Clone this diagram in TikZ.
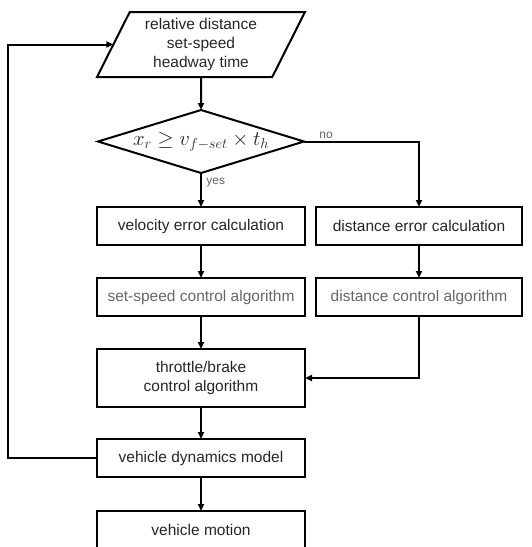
\documentclass[tikz,border=0pt]{standalone}
\usepackage{fontspec}
\setmainfont{Liberation Sans}
\usetikzlibrary{positioning,shapes.geometric,arrows.meta}

\begin{document}
\begin{tikzpicture}[x=1pt, y=-1pt, node distance=33pt, line width=2pt, >={Triangle[length=7pt,width=6pt]},
  every node/.style={align=center,outer sep=0pt,font=\fontsize{15.5}{19}\selectfont,text=black!85},
  box/.style={draw,minimum width=208pt,minimum height=38pt,inner sep=0pt},
  inbox/.style={draw,trapezium,trapezium left angle=58,trapezium right angle=122,trapezium stretches body,minimum width=208pt,minimum height=65pt,inner sep=0pt},
  testbox/.style={draw,diamond,aspect=3.27,minimum width=206pt,minimum height=63pt,inner sep=0pt},
  lbl/.style={font=\fontsize{12}{14}\selectfont,text=black!60}]
\clip (0,0) rectangle (531,547);
\node (in) [inbox] at (201,44.5) {relative distance\\set-speed\\headway time};
\node (dec) [testbox, below=of in] {\fontsize{20}{24}\selectfont$x_r \geq v_{f-set}\times t_h$};
\node (vel) [box, below=34pt of dec] {velocity error calculation};
\node (spd) [box, below=of vel, text=black!60] {set-speed control algorithm};
\node (thr) [box, below=of spd, minimum height=58pt] {throttle/brake\\control algorithm};
\node (dyn) [box, below=32pt of thr] {vehicle dynamics model};
\node (mot) [box, below=34pt of dyn] {vehicle motion};
\node (dist) [box, right=11pt of vel, minimum width=206pt] {distance error calculation};
\node (dctl) [box, below=of dist, minimum width=206pt, text=black!60] {distance control algorithm};
\coordinate (loop) at (8,300);
\node (no) [lbl, above right=0pt and 12pt of dec.east] {no};
\node (yes) [lbl, below right=2pt and 2pt of dec.south] {yes};
\draw[->] (in) -- (dec);
\draw[->] (dec) -- (vel);
\draw[->] (dec.east) -| (dist.north);
\draw[->] (vel) -- (spd);
\draw[->] (dist) -- (dctl);
\draw[->] (spd) -- (thr);
\draw[->] (dctl.south) |- (thr.east);
\draw[->] (thr) -- (dyn);
\draw[->] (dyn) -- (mot);
\draw[->] (dyn.west) -| (loop) |- (in.west);
\end{tikzpicture}
\end{document}
